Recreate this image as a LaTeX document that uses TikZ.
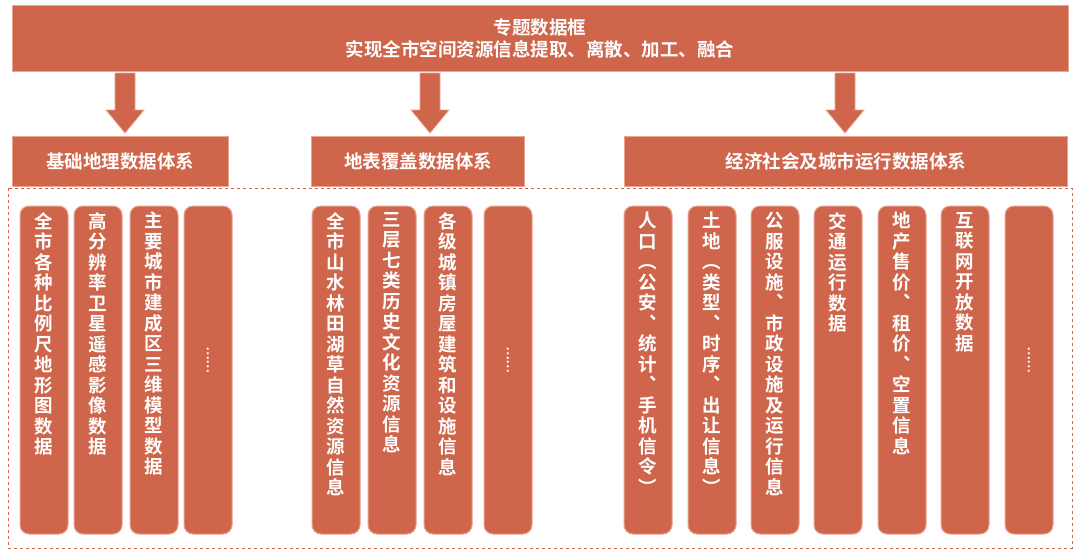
\documentclass[tikz,border=0pt]{standalone}
\usepackage{fontspec}
\setmainfont{Noto Sans CJK SC Bold}
\usetikzlibrary{shapes.arrows}
\ExplSyntaxOn
\NewDocumentCommand\vtext{m}{\tl_set:Nx\l_tmpa_tl{#1}\vbox{\baselineskip=20.5pt\lineskiplimit=-20pt\tl_map_inline:Nn\l_tmpa_tl{\hbox to 24pt{\hss ##1\hss}}}}
\ExplSyntaxOff
\definecolor{brick}{HTML}{CF654B}
\definecolor{edge}{HTML}{E9A38F}
\tikzset{bar/.style={fill=brick,draw=edge,line width=1pt,text=white},
 col/.style={fill=brick,draw=edge,line width=1pt,rounded corners=9pt},
 vt/.style={text=white,font=\fontsize{18.5}{20}\selectfont,anchor=north,inner sep=0pt},
 arr/.style={fill=brick,draw=edge,line width=0.8pt}}
\begin{document}
\begin{tikzpicture}[x=1pt,y=-1pt]
\useasboundingbox (0,0) rectangle (1080,560);
\node[bar,minimum width=1056pt,minimum height=66pt,align=center,font=\fontsize{18.5}{22}\selectfont] (top) at (540,38) {专题数据框\\实现全市空间资源信息提取、离散、加工、融合};
\node[bar,minimum width=216pt,minimum height=50pt,font=\fontsize{18.5}{20}\selectfont] (b1) at (120,161) {基础地理数据体系};
\node[bar,minimum width=213pt,minimum height=50pt,font=\fontsize{18.5}{20}\selectfont] (b2) at (418,161) {地表覆盖数据体系};
\node[bar,minimum width=443pt,minimum height=50pt,font=\fontsize{18.5}{20}\selectfont] (b3) at (846,161) {经济社会及城市运行数据体系};
\foreach \x/\n in {125/a1,430/a2,845/a3}{
 \draw[arr] (\x-10,73) -- (\x+10,73) -- (\x+10,110) -- (\x+19,110) -- (\x,133) -- (\x-19,110) -- (\x-10,110) -- cycle;
}
\draw[brick,dashed,line width=0.8pt] (8,188) rectangle (1072,548);
\foreach \x/\t [count=\i] in {
 44/全市各种比例尺地形图数据, 98/高分辨率卫星遥感影像数据, 154/主要城市建成区三维模型数据, 208/,
 336/全市山水林田湖草自然资源信息, 392/三层七类历史文化资源信息, 448/各级城镇房屋建筑和设施信息, 508/,
 648/人口︵公安︑统计︑手机信令︶, 712/土地︵类型︑时序︑出让信息︶, 775/公服设施︑市政设施及运行信息, 838/交通运行数据, 902/地产售价︑租价︑空置信息, 965/互联网开放数据, 1029/}{
 \filldraw[col] (\x-24,206) rectangle (\x+24,534);
 \node[vt] (c\i) at (\x,212) {\vtext{\t}};
}
\foreach \x in {208,508,1029}{\node[text=white,font=\fontsize{12}{12}\selectfont] at (\x,360) {\rotatebox{90}{……}};}
\end{tikzpicture}
\end{document}
